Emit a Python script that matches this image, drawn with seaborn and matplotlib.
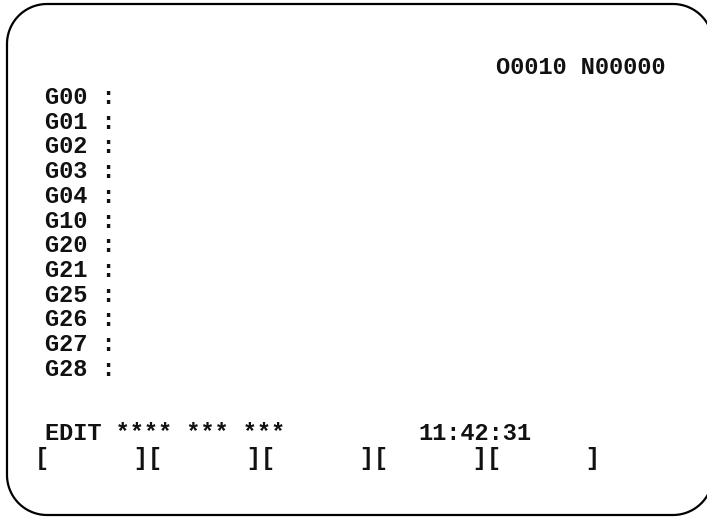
import matplotlib
matplotlib.use("Agg")
import numpy as np
import matplotlib.pyplot as plt
import seaborn as sns

# Screen contents
header = "O0010 N00000"
g_codes = ["G00", "G01", "G02", "G03", "G04", "G10", "G20", "G21", "G25", "G26", "G27", "G28"]
status = "EDIT **** *** ***"
clock = "11:42:31"
softkeys = ["", "", "", "", ""]

sns.set_theme(style="white")
plt.rcParams['font.family'] = ['Liberation Mono', 'DejaVu Sans Mono']

W, H = 707, 517
fig = plt.figure(figsize=(W / 100, H / 100), dpi=100)
ax = fig.add_axes([0, 0, 1, 1])
ax.set_xlim(0, W)
ax.set_ylim(H, 0)
ax.axis('off')

# rounded screen frame (right edge sits just past the canvas)
x0, y0, x1, y1, r = 7, 4, 713, 515, 40
t = np.linspace(0, np.pi / 2, 30)
xs, ys = [], []
# top-left, top-right, bottom-right, bottom-left corners
for cx, cy, a0 in [(x0 + r, y0 + r, np.pi), (x1 - r, y0 + r, 1.5 * np.pi),
                   (x1 - r, y1 - r, 0), (x0 + r, y1 - r, 0.5 * np.pi)]:
    xs.extend(cx + r * np.cos(a0 + t))
    ys.extend(cy + r * np.sin(a0 + t))
xs.append(xs[0])
ys.append(ys[0])
ax.plot(xs, ys, color='black', linewidth=1.6, solid_capstyle='round')

txt = dict(fontsize=17, fontweight='bold', color='#111111', va='baseline', ha='left')

ax.text(496, 74, header, **txt)

row_h = 24.7
for i, g in enumerate(g_codes):
    ax.text(45, 104 + i * row_h, g + " :", **txt)

ax.text(45, 440, status, **txt)
ax.text(418, 440, clock, **txt)

keys = "[" + "][".join(k.ljust(6) for k in softkeys) + "]"
ax.text(35, 465, keys, **txt)

fig.savefig("out.png", dpi=100)
